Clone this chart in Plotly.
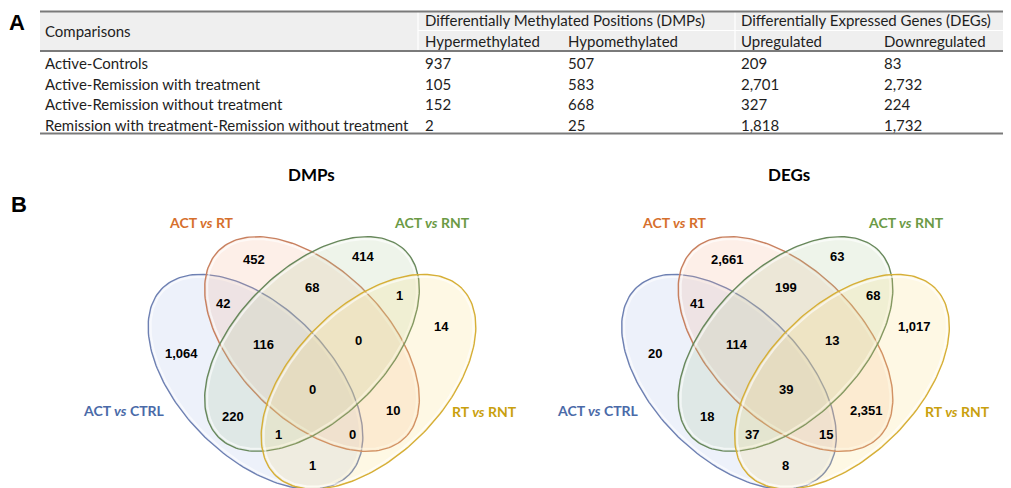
import numpy as np
import plotly.graph_objects as go

# ---------------- data ----------------
comparisons = [
    "Active-Controls",
    "Active-Remission with treatment",
    "Active-Remission without treatment",
    "Remission with treatment-Remission without treatment",
]
dmp_hyper = [937, 105, 152, 2]
dmp_hypo = [507, 583, 668, 25]
deg_up = [209, 2701, 327, 1818]
deg_down = [83, 2732, 224, 1732]
first_header = "Comparisons"
group_headers = ["Differentially Methylated Positions (DMPs)", "Differentially Expressed Genes (DEGs)"]
sub_headers = ["Hypermethylated", "Hypomethylated", "Upregulated", "Downregulated"]

set_names = ["ACT <i>vs</i> CTRL", "ACT <i>vs</i> RT", "ACT <i>vs</i> RNT", "RT <i>vs</i> RNT"]
venn_titles = ["DMPs", "DEGs"]
# regions: B=ACT vs CTRL, O=ACT vs RT, G=ACT vs RNT, Y=RT vs RNT
region_sets = ["O", "G", "BO", "OG", "GY", "Y", "B", "BOG", "OGY", "BOGY", "OY", "BG", "BGY", "BOY", "BY"]
dmp_counts = [452, 414, 42, 68, 1, 14, 1064, 116, 0, 0, 10, 220, 1, 0, 1]
deg_counts = [2661, 63, 41, 199, 68, 1017, 20, 114, 13, 39, 2351, 18, 37, 15, 8]

# ---------------- layout constants ----------------
W, H = 1011, 488
TXT = "Lato"
NUMF = "Liberation Sans"

tab_left, tab_right = 40, 1003
col_x = [43, 423, 566, 739, 882]
y_top, y_head, y_bot = 11.5, 51, 133.5
hdr_y1, hdr_y2 = 20, 40.5
row_y0, row_dy = 63, 20.5

venn_axes = [312, 785.5]
title_dx = [-1, 3.5]
title_y = 174
ell_a, ell_b = 132, 75
inner_cy, outer_cy, outer_dx = 344, 381.7, 56.5
region_pos = {
    "O": (-58.5, 259.5), "G": (51, 256.5), "BO": (-89, 303), "OG": (0, 287.5),
    "GY": (87, 295), "Y": (129, 326.5), "B": (-131, 353), "BOG": (-49, 344),
    "OGY": (46, 340), "BOGY": (0, 389.5), "OY": (81, 410), "BG": (-79, 416),
    "BGY": (-34, 434.5), "BOY": (40, 434), "BY": (0, 465),
}
set_label_pos = [(-188, 410), (-111, 222), (120, 222), (172, 411)]
set_text_col = ["#4a6aa8", "#d66f2c", "#6b9a45", "#c9a00e"]
set_line_col = ["rgb(110,128,178)", "rgb(200,128,95)", "rgb(104,136,92)", "rgb(214,175,55)"]
set_fill_col = ["rgba(175,192,232,0.22)", "rgba(246,176,140,0.2)",
                "rgba(168,200,150,0.2)", "rgba(250,222,120,0.2)"]


def ellipse(cx, cy, a, b, theta_deg, n=200):
    t = np.linspace(0, 2 * np.pi, n)
    th = np.radians(theta_deg)
    x = cx + a * np.cos(t) * np.cos(th) - b * np.sin(t) * np.sin(th)
    y = cy + a * np.cos(t) * np.sin(th) + b * np.sin(t) * np.cos(th)
    return x, y


fig = go.Figure()
shapes = []
ann = []

# ---------------- panel A: table ----------------
shapes.append(dict(type="rect", x0=tab_left, x1=tab_right, y0=y_top, y1=y_head,
                   xref="x", yref="y", fillcolor="#efefef", line=dict(width=0), layer="below"))
shapes.append(dict(type="line", x0=col_x[1] - 5, x1=tab_right, y0=30.5, y1=30.5,
                   xref="x", yref="y", line=dict(color="white", width=1.2)))
for xv in [col_x[1] - 5, col_x[3] - 4]:
    shapes.append(dict(type="line", x0=xv, x1=xv, y0=y_top, y1=y_head,
                       xref="x", yref="y", line=dict(color="white", width=1.2)))
for yv in [y_top, y_head, y_bot]:
    shapes.append(dict(type="line", x0=tab_left, x1=tab_right, y0=yv, y1=yv,
                       xref="x", yref="y", line=dict(color="#7a7a7a", width=2)))


def txt(x, y, s, size=15, color="#1e1e1e", family=TXT, xanchor="left", bold=False):
    if bold:
        s = "<b>" + s + "</b>"
    ann.append(dict(x=x, y=y, xref="x", yref="y", text=s, showarrow=False,
                    xanchor=xanchor, yanchor="middle",
                    font=dict(size=size, color=color, family=family)))


txt(col_x[0], (y_top + y_head) / 2, first_header)
txt(col_x[1], hdr_y1, group_headers[0])
txt(col_x[3], hdr_y1, group_headers[1])
for i, s in enumerate(sub_headers):
    txt(col_x[i + 1], hdr_y2, s)
for r, name in enumerate(comparisons):
    y = row_y0 + r * row_dy
    txt(col_x[0], y, name)
    for c, arr in enumerate([dmp_hyper, dmp_hypo, deg_up, deg_down]):
        txt(col_x[c + 1], y, f"{arr[r]:,}")

txt(17, 22, "A", size=22, color="black", family=NUMF, xanchor="center", bold=True)
txt(19, 204, "B", size=22, color="black", family=NUMF, xanchor="center", bold=True)

# ---------------- panel B: Venn diagrams ----------------
for p, (ax, counts) in enumerate(zip(venn_axes, [dmp_counts, deg_counts])):
    centers = [(ax - outer_dx, outer_cy, 45), (ax, inner_cy, 45),
               (ax, inner_cy, -45), (ax + outer_dx, outer_cy, -45)]
    for k, (cx, cy, th) in enumerate(centers):
        x, y = ellipse(cx, cy, ell_a, ell_b, th)
        fig.add_trace(go.Scatter(x=x, y=y, mode="lines", fill="toself",
                                 fillcolor=set_fill_col[k],
                                 line=dict(color=set_line_col[k], width=1.4),
                                 hoverinfo="skip", showlegend=False))
        # soft inner highlight
        x2, y2 = ellipse(cx, cy, ell_a - 2.5, ell_b - 2.5, th)
        fig.add_trace(go.Scatter(x=x2, y=y2, mode="lines",
                                 line=dict(color="rgba(255,255,255,0.6)", width=2),
                                 hoverinfo="skip", showlegend=False))
    for reg, val in zip(region_sets, counts):
        dx, y = region_pos[reg]
        txt(ax + dx, y, f"{val:,}", size=13, color="black", family=NUMF,
            xanchor="center", bold=True)
    for k, name in enumerate(set_names):
        dx, y = set_label_pos[k]
        txt(ax + dx, y, name, size=14, color=set_text_col[k], xanchor="center", bold=True)
    txt(ax + title_dx[p], title_y, venn_titles[p], size=17, color="black",
        xanchor="center", bold=True)

fig.update_layout(
    width=W, height=H,
    margin=dict(l=0, r=0, t=0, b=0),
    paper_bgcolor="white", plot_bgcolor="white",
    xaxis=dict(range=[0, W], visible=False, fixedrange=True),
    yaxis=dict(range=[H, 0], visible=False, fixedrange=True),
    shapes=shapes, annotations=ann, showlegend=False,
)
fig.write_html("out.html", config={"displayModeBar": False},
               post_script="document.body.style.margin='0px';document.body.style.overflow='hidden';")
